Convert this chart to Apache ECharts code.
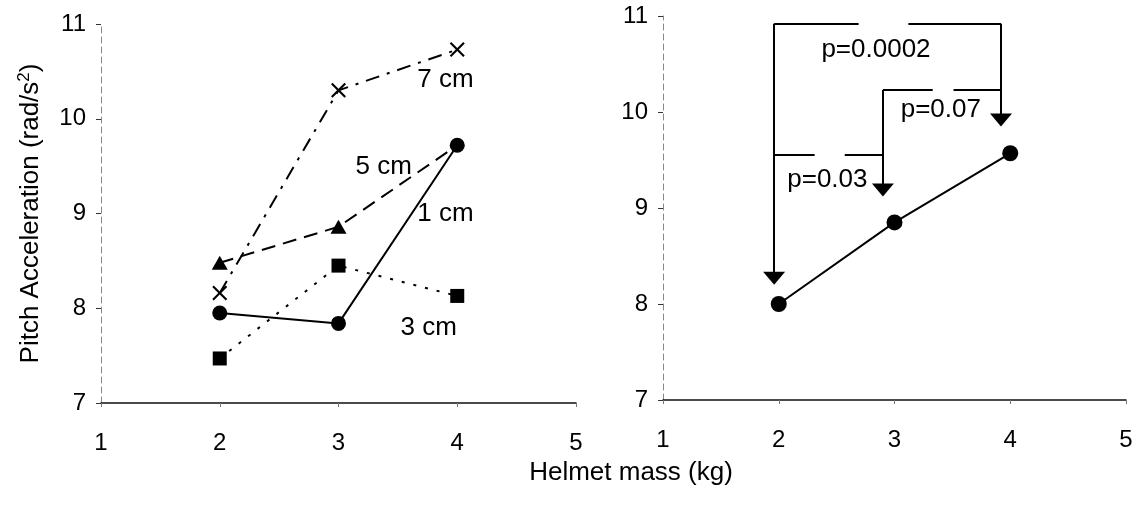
<!DOCTYPE html>
<html>
<head>
<meta charset="utf-8">
<script src="https://cdn.jsdelivr.net/npm/echarts@6/dist/echarts.min.js"></script>
<style>
html,body{margin:0;padding:0;background:#fff;}
#chart{width:1138px;height:508px;}
</style>
</head>
<body>
<div id="chart"></div>
<script>
// ---- data ----
const massLevels = [2, 3, 4];
const oneCm   = [7.95, 7.84, 9.72];
const threeCm = [7.47, 8.45, 8.13];
const fiveCm  = [8.48, 8.86, 9.72];
const sevenCm = [8.16, 10.30, 10.73];
const pooled  = [8.00, 8.85, 9.57];
const xTickLabels = [1, 2, 3, 4, 5];
const yTickLabels = [7, 8, 9, 10, 11];
const curveLabelNames = ['7 cm', '5 cm', '1 cm', '3 cm'];
const curveLabelX = [3.90, 3.38, 3.90, 3.76];
const curveLabelY = [10.41, 9.49, 9.00, 7.79];
const pLabelNames = ['p=0.0002', 'p=0.07', 'p=0.03'];
const pLabelX = [2.84, 3.40, 2.42];
const pLabelY = [10.65, 10.02, 9.29];
// bracket segments (data coords): [x1, y1, x2, y2]
const bracketSegments = [
  [1.96, 10.92, 1.96, 8.27],
  [1.96, 10.92, 2.69, 10.92],
  [3.12, 10.92, 3.92, 10.92],
  [3.92, 10.92, 3.92, 9.92],
  [2.90, 10.23, 3.33, 10.23],
  [3.51, 10.23, 3.92, 10.23],
  [2.90, 10.23, 2.90, 9.19],
  [1.96, 9.55, 2.31, 9.55],
  [2.57, 9.55, 2.90, 9.55]
];
const arrowTipX = [1.96, 2.90, 3.92];
const arrowTipY = [8.20, 9.12, 9.85];

// ---- chart ----
const FONT = '"Liberation Sans", Arial, Helvetica, sans-serif';
const chart = echarts.init(document.getElementById('chart'));
const pts = arr => arr.map((v, i) => [massLevels[i], v]);

function xAxisCfg(gi) {
  return {
    type: 'value', gridIndex: gi, min: xTickLabels[0], max: xTickLabels[xTickLabels.length - 1], interval: 1,
    axisLine: { show: true, onZero: false, lineStyle: { color: '#111', width: 1.5 } },
    axisTick: { show: true, length: 4, lineStyle: { color: '#777' } },
    splitLine: { show: false },
    axisLabel: { color: '#000', fontSize: 24, fontFamily: FONT, margin: 28 }
  };
}
function yAxisCfg(gi) {
  return {
    type: 'value', gridIndex: gi, min: yTickLabels[0], max: yTickLabels[yTickLabels.length - 1], interval: 1,
    axisLine: { show: true, onZero: false, lineStyle: { color: '#888', width: 1, type: [6, 4] } },
    axisTick: { show: true, length: 5, lineStyle: { color: '#333' } },
    splitLine: { show: false },
    axisLabel: { color: '#000', fontSize: 24, fontFamily: FONT, margin: 15 }
  };
}

const yLeft = yAxisCfg(0);
yLeft.name = 'Pitch Acceleration (rad/s{sup|2})';
yLeft.nameLocation = 'middle';
yLeft.nameRotate = 90;
yLeft.nameGap = 56;
yLeft.nameTextStyle = {
  color: '#000', fontSize: 26, fontFamily: FONT,
  rich: { sup: { fontSize: 17, fontFamily: FONT, color: '#000', padding: [0, 0, 12, 0] } }
};

const lineBase = (name, data, sym, size, dash) => ({
  name, type: 'line', xAxisIndex: 0, yAxisIndex: 0, data,
  symbol: sym, symbolSize: size, showSymbol: true,
  lineStyle: { color: '#000', width: 2, type: dash },
  itemStyle: { color: '#000', opacity: 1 },
  z: 3
});

const crossPath = 'path://M0,1L1,0L5,4L9,0L10,1L6,5L10,9L9,10L5,6L1,10L0,9L4,5Z';

const labelStyle = { show: true, position: 'inside', formatter: '{b}', color: '#000', opacity: 1, fontSize: 26, fontFamily: FONT, textBorderWidth: 0 };

const option = {
  animation: false,
  backgroundColor: '#fff',
  textStyle: { fontFamily: FONT },
  grid: [
    { left: 101, right: 562, top: 24, bottom: 105 },
    { left: 663, right: 12, top: 16, bottom: 108 }
  ],
  xAxis: [xAxisCfg(0), xAxisCfg(1)],
  yAxis: [yLeft, yAxisCfg(1)],
  graphic: [{
    type: 'text', x: 631, y: 473,
    style: { text: 'Helmet mass (kg)', fill: '#000', font: '26px ' + FONT, textAlign: 'center', textVerticalAlign: 'middle' }
  }],
  series: [
    lineBase('7 cm', pts(sevenCm), crossPath, 15, [14, 8, 3, 8]),
    lineBase('5 cm', fiveCm.map((v, i) => i === fiveCm.length - 1 ? { value: [massLevels[i], v], symbol: 'none' } : [massLevels[i], v]), 'triangle', [16, 14], [14, 8]),
    lineBase('3 cm', pts(threeCm), 'rect', 14, [3, 9]),
    lineBase('1 cm', pts(oneCm), 'circle', 15, 'solid'),
    {
      type: 'scatter', xAxisIndex: 0, yAxisIndex: 0, symbol: 'circle', symbolSize: 1,
      itemStyle: { color: 'rgba(0,0,0,0)', opacity: 1 }, silent: true,
      label: labelStyle,
      data: curveLabelNames.map((n, i) => ({ name: n, value: [curveLabelX[i], curveLabelY[i]] })),
      z: 5
    },
    {
      name: 'pooled', type: 'line', xAxisIndex: 1, yAxisIndex: 1, data: pts(pooled),
      symbol: 'circle', symbolSize: 16,
      lineStyle: { color: '#000', width: 2 }, itemStyle: { color: '#000', opacity: 1 },
      markLine: {
        silent: true, symbol: ['none', 'none'], animation: false,
        label: { show: false },
        lineStyle: { type: 'solid', color: '#000', width: 2, opacity: 1 },
        emphasis: { disabled: true },
        data: bracketSegments.map(s => [{ coord: [s[0], s[1]] }, { coord: [s[2], s[3]] }])
      }
    },
    {
      type: 'scatter', xAxisIndex: 1, yAxisIndex: 1, symbol: 'triangle', symbolSize: [22, 13],
      symbolRotate: 180, symbolOffset: [0, -6.5], itemStyle: { color: '#000', opacity: 1 }, silent: true,
      data: arrowTipX.map((x, i) => [x, arrowTipY[i]]), z: 4
    },
    {
      type: 'scatter', xAxisIndex: 1, yAxisIndex: 1, symbol: 'circle', symbolSize: 1,
      itemStyle: { color: 'rgba(0,0,0,0)', opacity: 1 }, silent: true,
      label: labelStyle,
      data: pLabelNames.map((n, i) => ({ name: n, value: [pLabelX[i], pLabelY[i]] })),
      z: 5
    }
  ]
};
chart.setOption(option);
</script>
</body>
</html>
